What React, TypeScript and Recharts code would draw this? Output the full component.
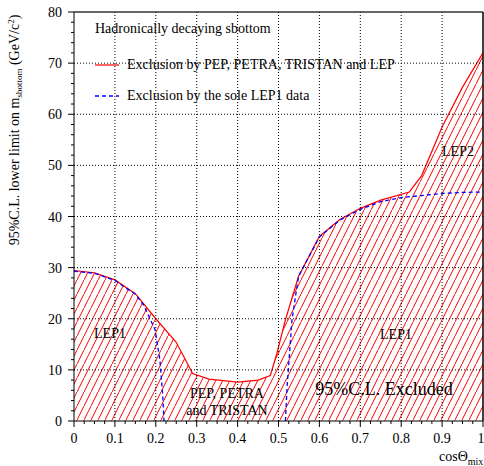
import React from "react";
import { ComposedChart, Area, Line, XAxis, YAxis, ReferenceLine } from "recharts";

// ---- data ----
const redX = [0, 0.05, 0.1, 0.15, 0.2, 0.25, 0.29, 0.33, 0.4, 0.45, 0.48, 0.496, 0.517, 0.549, 0.6, 0.65, 0.7, 0.75, 0.82, 0.85, 0.9, 0.95, 1.0];
const redY = [29.4, 29.0, 27.6, 24.9, 20.0, 15.4, 9.3, 8.2, 7.6, 8.0, 8.9, 13.2, 19.8, 28.3, 36.1, 39.4, 41.6, 43.2, 44.8, 48.0, 57.5, 65.3, 72.0];

const blueLeftX = [0, 0.05, 0.1, 0.15, 0.17, 0.198, 0.21, 0.217, 0.22];
const blueLeftY = [29.3, 28.9, 27.5, 24.8, 22.7, 17.9, 12.0, 5.0, 0];

const blueRightX = [0.517, 0.521, 0.533, 0.549, 0.6, 0.65, 0.7, 0.75, 0.8, 0.85, 0.9, 0.95, 1.0];
const blueRightY = [0, 6.7, 19.8, 28.3, 36.0, 39.3, 41.4, 42.9, 43.7, 44.1, 44.5, 44.7, 44.8];

const xMajor = [0, 0.1, 0.2, 0.3, 0.4, 0.5, 0.6, 0.7, 0.8, 0.9, 1];
const xLabels = ["0", "0.1", "0.2", "0.3", "0.4", "0.5", "0.6", "0.7", "0.8", "0.9", "1"];
const yMajor = [0, 10, 20, 30, 40, 50, 60, 70, 80];
const yLabels = ["0", "10", "20", "30", "40", "50", "60", "70", "80"];
const xMinorStep = 0.025;
const yMinorStep = 2;

const redData = redX.map((x, i) => ({ x, y: redY[i] }));
const blueLeft = blueLeftX.map((x, i) => ({ x, y: blueLeftY[i] }));
const blueRight = blueRightX.map((x, i) => ({ x, y: blueRightY[i] }));

const xTicks = Array.from({ length: Math.round(1 / xMinorStep) + 1 }, (_, i) => +(i * xMinorStep).toFixed(4));
const yTicks = Array.from({ length: Math.round(80 / yMinorStep) + 1 }, (_, i) => i * yMinorStep);

const FONT = "'Liberation Serif', 'Times New Roman', serif";

const XTick = (props: any) => {
  const { x, y, payload } = props;
  const v = payload.value;
  const idx = xMajor.findIndex((m) => Math.abs(m - v) < 1e-6);
  const major = idx >= 0;
  const last = idx === xMajor.length - 1;
  return (
    <g>
      <line x1={x} x2={x} y1={y} y2={y + (major ? 6 : 3)} stroke="#000" strokeWidth={1} />
      {major && (
        <text
          x={last ? x + 1.5 : x}
          y={y + 22}
          textAnchor={last ? "end" : "middle"}
          fontFamily={FONT}
          fontSize={14}
          fill="#000"
        >
          {xLabels[idx]}
        </text>
      )}
    </g>
  );
};

const YTick = (props: any) => {
  const { x, y, payload } = props;
  const v = payload.value;
  const idx = yMajor.findIndex((m) => Math.abs(m - v) < 1e-6);
  const major = idx >= 0;
  return (
    <g>
      <line x1={x - (major ? 6 : 3)} x2={x} y1={y} y2={y} stroke="#000" strokeWidth={1} />
      {major && (
        <text x={x - 12} y={y + 5} textAnchor="end" fontFamily={FONT} fontSize={14} fill="#000">
          {yLabels[idx]}
        </text>
      )}
    </g>
  );
};

const grid = { stroke: "#000", strokeDasharray: "1 2", strokeWidth: 1 };

export default function App() {
  return (
    <div style={{ position: "absolute", left: 0, top: 0, width: 484, height: 466, background: "#fff" }}>
      <ComposedChart width={484} height={466} margin={{ top: 12, right: 1, bottom: 0, left: 0 }}>
        <defs>
          <pattern id="hatch" patternUnits="userSpaceOnUse" width={7} height={14}>
            <rect x={0} y={0} width={7} height={14} fill="#fff" />
            <line x1={-0.5} y1={15} x2={7.5} y2={-1} stroke="#ff0000" strokeWidth={1} />
          </pattern>
        </defs>
        <XAxis
          dataKey="x"
          type="number"
          domain={[0, 1]}
          ticks={xTicks}
          interval={0}
          tickLine={false}
          tickSize={0}
          tickMargin={0}
          tick={<XTick />}
          height={45}
          axisLine={{ stroke: "#000", strokeWidth: 1 }}
          allowDataOverflow
        />
        <YAxis
          type="number"
          domain={[0, 80]}
          ticks={yTicks}
          interval={0}
          tickLine={false}
          tickSize={0}
          tickMargin={0}
          tick={<YTick />}
          width={74}
          axisLine={{ stroke: "#000", strokeWidth: 1 }}
          allowDataOverflow
        />
        <Area
          data={redData}
          dataKey="y"
          type="linear"
          stroke="#ff0000"
          strokeWidth={1.2}
          fill="url(#hatch)"
          fillOpacity={1}
          isAnimationActive={false}
          dot={false}
          activeDot={false}
        />
        {xMajor.slice(1, -1).map((v) => (
          <ReferenceLine key={"gx" + v} x={v} {...grid} />
        ))}
        {yMajor.slice(1, -1).map((v) => (
          <ReferenceLine key={"gy" + v} y={v} {...grid} />
        ))}
        <ReferenceLine y={80} stroke="#333" strokeWidth={1.5} />
        <ReferenceLine x={1} stroke="#000" strokeWidth={1.5} />
        <Line
          data={blueLeft}
          dataKey="y"
          type="linear"
          stroke="#0000ff"
          strokeWidth={1.3}
          strokeDasharray="4 3"
          dot={false}
          activeDot={false}
          isAnimationActive={false}
        />
        <Line
          data={blueRight}
          dataKey="y"
          type="linear"
          stroke="#0000ff"
          strokeWidth={1.3}
          strokeDasharray="4 3"
          dot={false}
          activeDot={false}
          isAnimationActive={false}
        />
      </ComposedChart>
      <svg
        width={484}
        height={466}
        style={{ position: "absolute", left: 0, top: 0, pointerEvents: "none" }}
        fontFamily={FONT}
        fill="#000"
      >
        <text x={95} y={33} fontSize={14}>Hadronically decaying sbottom</text>
        <line x1={95} x2={119} y1={65} y2={65} stroke="#ff0000" strokeWidth={1.2} />
        <text x={127} y={69} fontSize={14}>Exclusion by PEP, PETRA, TRISTAN and LEP</text>
        <line x1={95} x2={119} y1={96} y2={96} stroke="#0000ff" strokeWidth={1.3} strokeDasharray="4 3" />
        <text x={127} y={100} fontSize={14}>Exclusion by the sole LEP1 data</text>
        <text x={110} y={338} fontSize={14} textAnchor="middle">LEP1</text>
        <text x={227} y={398} fontSize={14} textAnchor="middle">PEP, PETRA</text>
        <text x={227} y={415} fontSize={14} textAnchor="middle">and TRISTAN</text>
        <text x={396} y={339} fontSize={14} textAnchor="middle">LEP1</text>
        <text x={458} y={156} fontSize={14} textAnchor="middle">LEP2</text>
        <text x={384} y={395} fontSize={18} textAnchor="middle">95%C.L. Excluded</text>
        <text x={439} y={461} fontSize={14}>
          cosΘ<tspan fontSize={10} dy={4}>mix</tspan>
        </text>
        <text x={19} y={130} fontSize={14} textAnchor="middle" transform="rotate(-90 19 130)">
          95%C.L. lower limit on m<tspan fontSize={9} dy={3}>sbottom</tspan>
          <tspan dy={-3}> (GeV/c</tspan>
          <tspan fontSize={9} dy={-5}>2</tspan>
          <tspan dy={5}>)</tspan>
        </text>
      </svg>
    </div>
  );
}
